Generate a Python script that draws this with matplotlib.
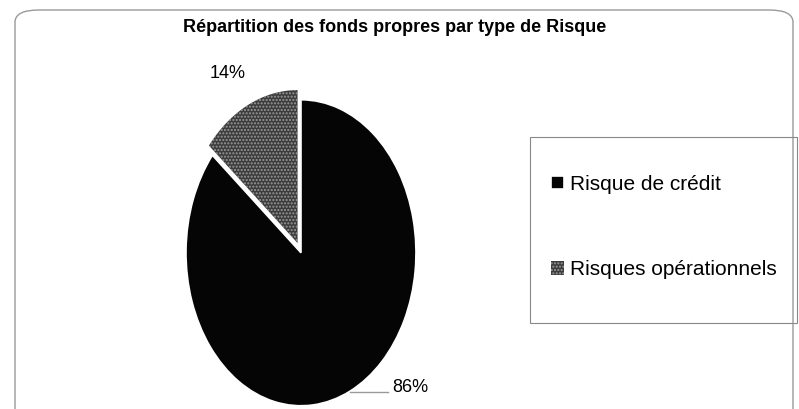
import matplotlib.pyplot as plt
from matplotlib.patches import FancyBboxPatch, Rectangle

labels = ['Risque de crédit', 'Risques opérationnels']
values = [86, 14]
pct_labels = ['86%', '14%']
title = 'Répartition des fonds propres par type de Risque'

plt.rcParams['font.family'] = ['Liberation Sans', 'DejaVu Sans']

W, H = 799, 409
fig = plt.figure(figsize=(W / 100, H / 100), dpi=100)

# outer rounded frame
frame = FancyBboxPatch((15 / W, -20 / H), 778 / W, (H - 10 + 20) / H,
                       boxstyle='round,pad=0,rounding_size=0.03',
                       transform=fig.transFigure, fill=False,
                       edgecolor='#9a9a9a', linewidth=1.0)
fig.patches.append(frame)

# pie axes: centre (300, 250) px, rx 115, ry 153, limits +-1.3
cx, cy, rx, ry, lim = 300, 250, 115, 153, 1.3
ax = fig.add_axes([(cx - rx * lim) / W, (H - cy - ry * lim) / H,
                   2 * rx * lim / W, 2 * ry * lim / H])
wedges, _ = ax.pie(values, startangle=90, counterclock=False,
                   colors=['#050505', '#3c3c3c'], explode=[0.02, 0.05],
                   labels=None, wedgeprops=dict(linewidth=1.2, edgecolor='white'))
wedges[1].set_hatch('.....')
wedges[1].set_edgecolor('#9a9a9a')
wedges[1].set_linewidth(0)
ax.set_aspect('auto')
ax.set_xlim(-lim, lim)
ax.set_ylim(-lim, lim)
ax.axis('off')

fig.text(395 / W, 1 - 28 / H, title, ha='center', va='center',
         fontsize=13, fontweight='bold')
fig.text(228 / W, 1 - 73 / H, pct_labels[1], ha='center', va='center', fontsize=13)
fig.text(392 / W, 1 - 387 / H, pct_labels[0], ha='left', va='center', fontsize=13)
fig.lines.append(plt.Line2D([350 / W, 388 / W], [1 - 392 / H, 1 - 392 / H],
                            transform=fig.transFigure, color='#9a9a9a', lw=1))

# legend box
fig.patches.append(Rectangle((530 / W, 1 - 323 / H), 267 / W, 186 / H,
                             transform=fig.transFigure, fill=False,
                             edgecolor='#888888', linewidth=0.8))
leg = fig.legend(wedges, labels, loc='center left', bbox_to_anchor=(543 / W, 1 - 227 / H),
                 fontsize=15, frameon=False,
                 handlelength=0.6, handleheight=0.6, handletextpad=0.3,
                 labelspacing=3.2, borderaxespad=0)

fig.savefig('out.png', dpi=100)
